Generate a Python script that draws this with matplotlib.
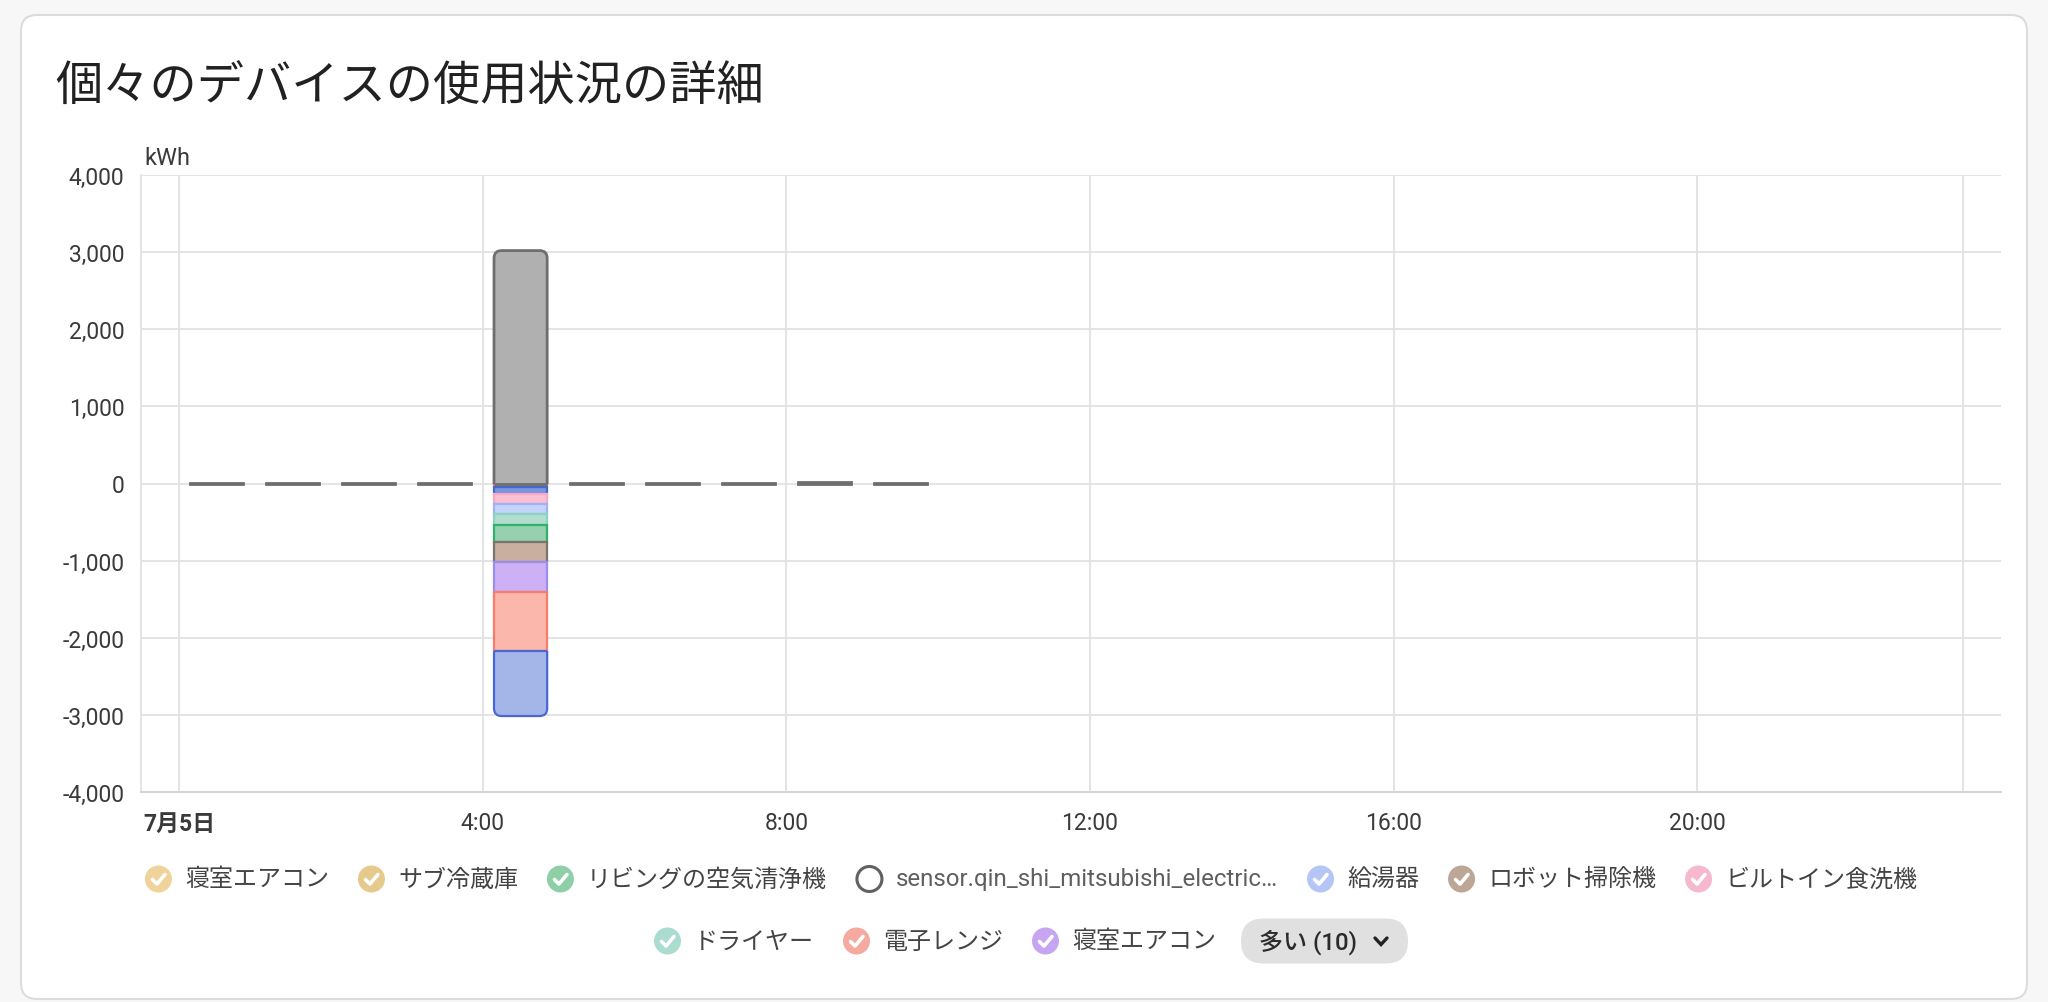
import matplotlib
matplotlib.use('Agg')
import matplotlib.pyplot as plt
from matplotlib.patches import FancyBboxPatch, Circle, Rectangle
from matplotlib.ticker import FuncFormatter

plt.rcParams['font.family'] = ['Roboto', 'Noto Sans CJK JP', 'DejaVu Sans']

W, H = 2048, 1003

TITLE = '個々のデバイスの使用状況の詳細'
UNIT = 'kWh'

# --- data ---
hours = [0, 1, 2, 3, 4, 5, 6, 7, 8, 9]
sensor_kwh = [10, 10, 10, 10, 3020, 10, 10, 10, 25, 10]

# negative stack at 4:00, from zero downwards
stack_hour = 4
stack_names = ['other_1', 'other_2', 'ビルトイン食洗機', '給湯器', 'ドライヤー',
               'リビングの空気清浄機', 'ロボット掃除機', '寝室エアコン', '電子レンジ', 'other_3']
stack_kwh = [-40, -98, -124, -130, -140, -226, -260, -392, -768, -837]

xtick_hours = [0, 4, 8, 12, 16, 20]
xtick_labels = ['7月5日', '4:00', '8:00', '12:00', '16:00', '20:00']
yticks = [-4000, -3000, -2000, -1000, 0, 1000, 2000, 3000, 4000]

legend_labels = ['寝室エアコン', 'サブ冷蔵庫', 'リビングの空気清浄機',
                 'sensor.qin_shi_mitsubishi_electric…', '給湯器', 'ロボット掃除機',
                 'ビルトイン食洗機', 'ドライヤー', '電子レンジ', '寝室エアコン']
legend_shown = [True, True, True, False, True, True, True, True, True, True]
more_label = '多い (10)'

# --- styles ---
SENSOR_FILL, SENSOR_EDGE = '#b0b0b0', '#6e6e6e'
stack_fill = ['#ffb8ad', '#7d93e0', '#f8c0d2', '#c4d3fa', '#b2ddd1',
              '#96d0ae', '#c9af9f', '#ceb0f4', '#fbb7ab', '#a4b5e8']
stack_edge = ['#ff725c', '#4269d0', '#f6a9c4', '#9fb3f2', '#90d2c0',
              '#2eb36c', '#7a7470', '#9c8ef0', '#f87c6a', '#4a68d4']
legend_colors = ['#f0d39b', '#e6c98c', '#8ecfa7', '#616161', '#b5c6f6', '#bea697',
                 '#f5b8ce', '#aadccf', '#f4aa9f', '#c6a6f2']
GRID = '#e2e2e2'
TXT = '#3a3a3a'

fig = plt.figure(figsize=(W / 100, H / 100), dpi=100)
fig.patch.set_facecolor('#f7f7f7')

# decoration layer in pixel coords
deco = fig.add_axes([0, 0, 1, 1], zorder=0)
deco.set_xlim(0, W)
deco.set_ylim(H, 0)
deco.axis('off')
card = FancyBboxPatch((21, 16), 2006, 984, boxstyle='round,pad=0,rounding_size=16',
                      facecolor='white', edgecolor='#dcdcdc', linewidth=1.5)
deco.add_patch(card)

fig.text(55 / W, 1 - 88 / H, TITLE, fontsize=34, color='#212121', va='center')

# --- main chart ---
left, right, top, bottom = 141, 2001, 176, 793
ax = fig.add_axes([left / W, 1 - bottom / H, (right - left) / W, (bottom - top) / H], zorder=1)
ax.set_facecolor('none')
ax.set_xlim(-0.5, 24)
ax.set_ylim(-4000, 4000)
ax.set_yticks(yticks)
ax.yaxis.set_major_formatter(FuncFormatter(lambda v, p: f'{int(v):,}'))
ax.set_xticks(xtick_hours)
ax.set_xticklabels(xtick_labels)
ax.set_xticks([23.5], minor=True)
ax.tick_params(axis='both', which='both', length=0, labelsize=16.5, labelcolor=TXT)
ax.tick_params(axis='y', pad=12)
ax.tick_params(axis='x', pad=14)
ax.get_xticklabels()[0].set_fontweight('bold')
ax.grid(True, which='both', color=GRID, linewidth=1.3)
ax.set_axisbelow(True)
for s in ['top', 'right']:
    ax.spines[s].set_visible(False)
ax.spines['left'].set_color(GRID)
ax.spines['bottom'].set_color('#d4d4d4')
ax.spines['left'].set_linewidth(1.3)
ax.spines['bottom'].set_linewidth(1.5)
ax.text(0.002, 1.01, UNIT, transform=ax.transAxes, fontsize=17, color=TXT,
        ha='left', va='bottom')

BAR_W = 0.7
xs = [h + 0.5 for h in hours]
sensor_bars = ax.bar(xs, sensor_kwh, width=BAR_W, color=SENSOR_FILL,
                     edgecolor=SENSOR_EDGE, linewidth=2, zorder=3)

seg_bars = []
base = 0
for val, fc, ec in zip(stack_kwh, stack_fill, stack_edge):
    b = ax.bar(stack_hour + 0.5, val, width=BAR_W, bottom=base, color=fc,
               edgecolor=ec, linewidth=1.6, zorder=3)
    seg_bars.append(b[0])
    base += val

# rounded outer ends of the stacked column
px_x = ax.get_position().width * W / (24.5)
px_y = ax.get_position().height * H / 8000
aspect = px_x / px_y
RAD = 0.1


def round_end(rect, up):
    x, y0, w, h = rect.get_x(), rect.get_y(), rect.get_width(), rect.get_height()
    lo, hi = min(y0, y0 + h), max(y0, y0 + h)
    ext = RAD * aspect * 1.5
    if up:
        box_lo, box_hi, clip_lo, clip_hi, flat = lo - ext, hi, lo, hi + 500, lo
    else:
        box_lo, box_hi, clip_lo, clip_hi, flat = lo, hi + ext, lo - 500, hi, hi
    fb = FancyBboxPatch((x, box_lo), w, box_hi - box_lo,
                        boxstyle=f'round,pad=0,rounding_size={RAD}',
                        mutation_aspect=aspect, facecolor=rect.get_facecolor(),
                        edgecolor=rect.get_edgecolor(), linewidth=rect.get_linewidth(),
                        zorder=3)
    ax.add_patch(fb)
    clip = Rectangle((x - 0.2, clip_lo), w + 0.4, clip_hi - clip_lo,
                     transform=ax.transData)
    fb.set_clip_path(clip)
    rect.set_visible(False)
    ax.plot([x, x + w], [flat, flat], color=rect.get_edgecolor(),
            linewidth=rect.get_linewidth(), zorder=3.5, solid_capstyle='butt')


round_end(sensor_bars[hours.index(stack_hour)], up=True)
round_end(seg_bars[-1], up=False)

# --- legend (manual, centred rows) ---
renderer = fig.canvas.get_renderer()
CIRC_R = 13.5
LEG_FS = 17.3
legend_cx = 1031
rows = [(list(range(0, 7)), 880, False), (list(range(7, 10)), 942, True)]


def draw_check(cx, cy):
    deco.plot([cx - 6, cx - 1.5, cx + 6.5], [cy + 0.5, cy + 5, cy - 4.5],
              color='white', linewidth=2.6, solid_capstyle='round',
              solid_joinstyle='round', zorder=3)


for idx, cy, with_btn in rows:
    texts = []
    widths = []
    for i in idx:
        t = deco.text(0, cy, legend_labels[i], fontsize=LEG_FS, va='center', ha='left',
                      color='#444444' if legend_shown[i] else '#5f5f5f', zorder=3)
        texts.append(t)
        widths.append(t.get_window_extent(renderer).width)
    item_w = [2 * CIRC_R + 13 + w for w in widths]
    gap = 29
    total = sum(item_w) + gap * (len(item_w) - 1)
    btn_t = None
    if with_btn:
        btn_t = deco.text(0, cy, more_label, fontsize=LEG_FS, va='center', ha='left',
                          color='#2a2a2a', fontweight='medium', zorder=4)
        bw = btn_t.get_window_extent(renderer).width
        btn_w = 18 + bw + 18 + 13 + 20
        total += 25 + btn_w
    x = legend_cx - total / 2
    for i, t, iw in zip(idx, texts, item_w):
        cx = x + CIRC_R
        if legend_shown[i]:
            deco.add_patch(Circle((cx, cy), CIRC_R, facecolor=legend_colors[i],
                                  edgecolor='none', zorder=2))
            draw_check(cx, cy)
        else:
            deco.add_patch(Circle((cx, cy), CIRC_R - 1, facecolor='white',
                                  edgecolor=legend_colors[i], linewidth=2.2, zorder=2))
        t.set_x(x + 2 * CIRC_R + 13)
        x += iw + gap
    if with_btn:
        bx = x - gap + 25
        pill = FancyBboxPatch((bx, cy - 22.5), btn_w, 45,
                              boxstyle='round,pad=0,rounding_size=22.5',
                              facecolor='#e0e0e0', edgecolor='none', zorder=2)
        deco.add_patch(pill)
        btn_t.set_x(bx + 18)
        chx = bx + 18 + bw + 18 + 6
        deco.plot([chx - 6, chx, chx + 6], [cy - 3, cy + 3.5, cy - 3], color='#222222',
                  linewidth=2.4, solid_capstyle='round', solid_joinstyle='miter', zorder=3)

fig.savefig('out.png', dpi=100, facecolor=fig.get_facecolor())
